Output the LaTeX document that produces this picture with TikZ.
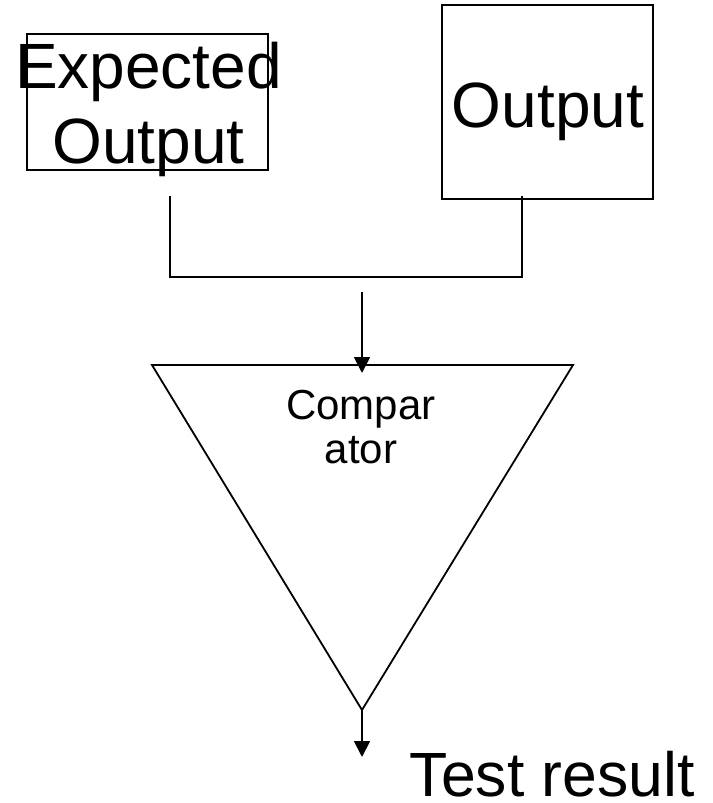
\documentclass[tikz,border=0pt]{standalone}
\usepackage{fontspec}
\setmainfont{Liberation Sans}
\usetikzlibrary{arrows.meta}
\tikzset{
  boxstyle/.style={draw, line width=1.6pt, inner sep=0pt},
  wire/.style={line width=1.8pt},
  arr/.style={wire, -{Triangle[length=16pt,width=16pt]}},
  bigtext/.style={inner sep=0pt, font=\fontsize{64}{75}\selectfont, align=center},
}
\begin{document}
\begin{tikzpicture}[x=1pt,y=-1pt]
\useasboundingbox (0,0) rectangle (712,803);
% boxes
\node[boxstyle, minimum width=241pt, minimum height=136pt] (expbox) at (147.5,102) {};
\node[bigtext, anchor=north] (exptext) at (148.5,41.5) {Expected\\Output};
\node[boxstyle, minimum width=211pt, minimum height=194pt] (outbox) at (547.5,102) {};
\node[bigtext, anchor=base] (outtext) at (548,127) {Output};
% joining wires
\coordinate (ja) at (170,196);
\coordinate (jb) at (522,196);
\draw[wire] (ja) |- (522,277) -- (jb);
% comparator triangle
\coordinate (tl) at (152,365);
\coordinate (tr) at (573,365);
\coordinate (tip) at (362,710);
\draw[wire, line join=miter] (tl) -- (tr) -- (tip) -- cycle;
\node[inner sep=0pt, anchor=north, align=center, font=\fontsize{42}{44}\selectfont] (cmp) at (361,389.5) {Compar\\ator};
% arrows
\coordinate (ain) at (362,292);
\coordinate (aend) at (362,373);
\draw[arr] (ain) -- (aend);
\coordinate (rend) at (362,757);
\draw[arr] (tip) -- (rend);
\node[inner sep=0pt, anchor=base west, font=\fontsize{62.5}{70}\selectfont] (res) at (409.5,796.5) {Test result};
\end{tikzpicture}
\end{document}
